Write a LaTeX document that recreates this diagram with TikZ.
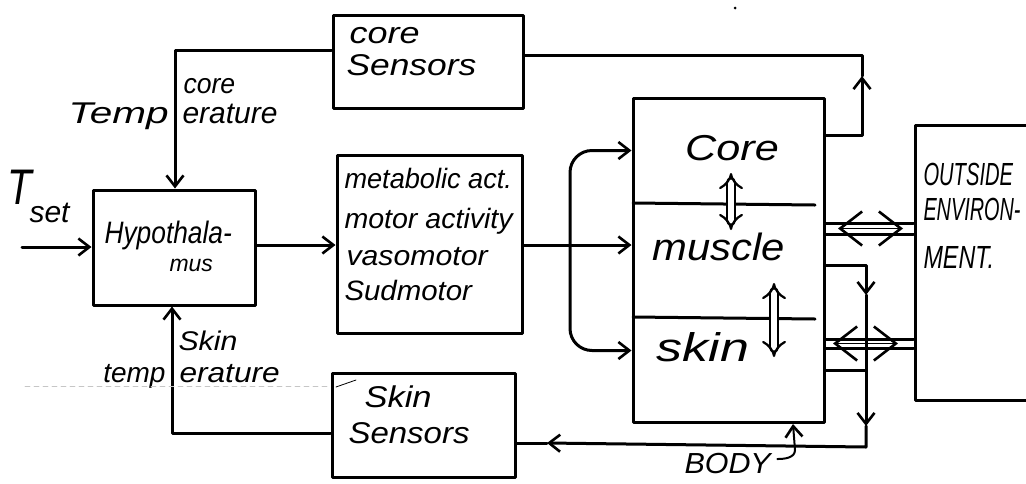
\documentclass[tikz,border=0pt]{standalone}
\usepackage{fontspec}
\setmainfont{Liberation Sans}
\usetikzlibrary{arrows.meta,calc}
\newcommand{\hw}[3]{\scalebox{#2}[1]{\fontsize{#1}{#1}\selectfont\itshape #3}}
\begin{document}
\begin{tikzpicture}[x=1pt,y=-1pt,line width=3pt,line join=round,line cap=round,
 box/.style={draw,rectangle,inner sep=0pt,line width=3pt},
 lbl/.style={inner sep=0pt,anchor=base west},
 rlbl/.style={inner sep=0pt,anchor=base east},
 clbl/.style={inner sep=0pt,anchor=base},
 arr/.style={-{Straight Barb[length=11pt,width=17pt,line width=2.6pt]}},
 xarr/.style={{Straight Barb[length=22pt,width=34pt,line width=2.6pt]}-{Straight Barb[length=22pt,width=34pt,line width=2.6pt]},line width=1.2pt},
 dblarr/.style={double,double distance=6pt,line width=2.2pt,{Implies}-{Implies}},
]
\useasboundingbox (0,0) rectangle (1026,483);

% boxes
\node[box,minimum width=190pt,minimum height=93pt] (cs) at (428,61.5) {};
\node[box,minimum width=162pt,minimum height=115pt] (hyp) at (174,247.5) {};
\node[box,minimum width=185pt,minimum height=178pt] (met) at (429.5,244) {};
\node[box,minimum width=183pt,minimum height=104pt] (ss) at (423.5,425) {};
\node[box,minimum width=191pt,minimum height=324pt] (body) at (728.5,260) {};
\node[box,minimum width=140pt,minimum height=275pt] (env) at (985,262.5) {};

% body dividers
\coordinate (d1a) at (633,203); \coordinate (d1b) at (815,205);
\coordinate (d2a) at (633,317); \coordinate (d2b) at (815,319);
\draw (d1a) -- (d1b);
\draw (d2a) -- (d2b);

% texts
\node[lbl] (cs1) at (348,43) {\hw{30}{1.2}{core}};
\node[lbl] (cs2) at (345,75) {\hw{30}{1.18}{Sensors}};
\node[lbl] (l1) at (182,93) {\hw{28}{0.95}{core}};
\node[rlbl] (l2) at (170,123) {\hw{30}{1.35}{Temp}};
\node[lbl] (l3) at (181,123) {\hw{30}{1.0}{erature}};
\node[lbl] (h1) at (103,243) {\hw{31}{0.85}{Hypothala-}};
\node[lbl] (h2) at (168,271) {\hw{23}{1}{mus}};
\node[lbl] (m1) at (343,188) {\hw{28}{0.97}{metabolic act.}};
\node[lbl] (m2) at (343,228) {\hw{28}{1.02}{motor activity}};
\node[lbl] (m3) at (345,265) {\hw{28}{1.08}{vasomotor}};
\node[lbl] (m4) at (343,300) {\hw{28}{1.05}{Sudmotor}};
\node[lbl] (l4) at (177,350) {\hw{27}{1.12}{Skin}};
\node[rlbl] (l5) at (167,382) {\hw{28}{1.0}{temp}};
\node[lbl] (l6) at (178,382) {\hw{28}{1.13}{erature}};
\node[lbl] (ss1) at (363,407) {\hw{30}{1.15}{Skin}};
\node[lbl] (ss2) at (347,443) {\hw{30}{1.1}{Sensors}};
\node[clbl] (bt1) at (732,160) {\hw{36}{1.2}{Core}};
\node[clbl] (bt2) at (719,260) {\hw{38}{1.1}{muscle}};
\node[clbl] (bt3) at (703,361) {\hw{40}{1.3}{skin}};
\node[lbl] (e1) at (922,185) {\hw{32}{0.63}{OUTSIDE}};
\node[lbl] (e2) at (922,220) {\hw{32}{0.62}{ENVIRON-}};
\node[lbl] (e3) at (922,268) {\hw{32}{0.73}{MENT.}};
\node[lbl] (tT) at (6,204) {\hw{50}{0.8}{T}};
\node[lbl] (tset) at (28,222) {\hw{30}{1}{set}};
\node[lbl] (bodyl) at (683,473) {\hw{29}{1.05}{BODY}};

% helper levels
\coordinate (ct) at (175,50);
\coordinate (co) at (862,55);
\coordinate (cotip) at (862,76);
\coordinate (bcore) at ($(body.north east)+(0,39)$);
\coordinate (tin) at (22,247);
\coordinate (br) at (570,245);
\coordinate (bc) at ($(body.north west)+(0,54)$);
\coordinate (bs) at ($(body.north west)+(0,254)$);
\coordinate (st) at (172,433);

% core temperature feedback
\draw[arr] (cs.west |- ct) -- (ct) -- (ct |- hyp.north);
% body core -> core sensors
\draw[arr] (bcore) -| (cotip);
\draw (cotip) |- (cs.east |- co);
% T set
\draw[arr] (tin) -- (hyp.west |- tin);
% hypothalamus -> effectors
\draw[arr] (hyp.east |- br) -- (met.west |- br);
% effectors -> body
\draw[arr] (met.east |- br) -- (body.west |- br);
\draw[arr,rounded corners=22pt] (br) |- (bc);
\draw[arr,rounded corners=22pt] (br) |- (bs);
% internal exchange
\coordinate (da1) at (731,173); \coordinate (da2) at (731,230);
\coordinate (db1) at (774,283); \coordinate (db2) at (774,357);
\draw[dblarr] (da1) -- (da2);
\draw[dblarr] (db1) -- (db2);

% exchange channels with environment
\coordinate (y223) at (0,223); \coordinate (y234) at (0,234);
\coordinate (y339) at (0,339); \coordinate (y348) at (0,348);
\draw (body.east |- y223) -- (env.west |- y223);
\draw (body.east |- y234) -- (env.west |- y234);
\draw (body.east |- y339) -- (env.west |- y339);
\draw (body.east |- y348) -- (env.west |- y348);
\coordinate (xa1) at (838,228.5); \coordinate (xa2) at (903,228.5);
\coordinate (xb1) at (833,343.5); \coordinate (xb2) at (898,343.5);
\draw[xarr] (xa1) -- (xa2);
\draw[xarr] (xb1) -- (xb2);

% body -> skin sensors
\coordinate (jm) at (866,265);
\coordinate (v1) at (866,295);
\coordinate (v2) at (866,426);
\coordinate (jb) at (866,447);
\coordinate (lt) at (547,443);
\coordinate (js) at (866,370);
\draw[arr] (body.east |- jm) -- (jm) -- (v1);
\draw[arr] (v1) -- (v2);
\draw[arr] (v2) -- (jb) -- (lt);
\draw (lt) -- (ss.east |- lt);
\draw (body.east |- js) -- (js);

% skin temperature feedback
\draw[arr] (ss.west |- st) -- (st) -- (st |- hyp.south);

% BODY pointer
\coordinate (bp) at (793,424);
\coordinate (bh) at (795,450);
\draw[arr,line width=2pt] ($(bodyl.east)+(5,-4)$) to[out=0,in=-90] (bh) -- (bp);

% scan marks
\draw[gray!45,line width=0.8pt,dash pattern=on 5pt off 4pt] (25,386) -- (330,386);
\draw[line width=0.8pt] (336,387) -- (356,380);
\fill (735,8) circle (1.5pt);
\end{tikzpicture}
\end{document}
